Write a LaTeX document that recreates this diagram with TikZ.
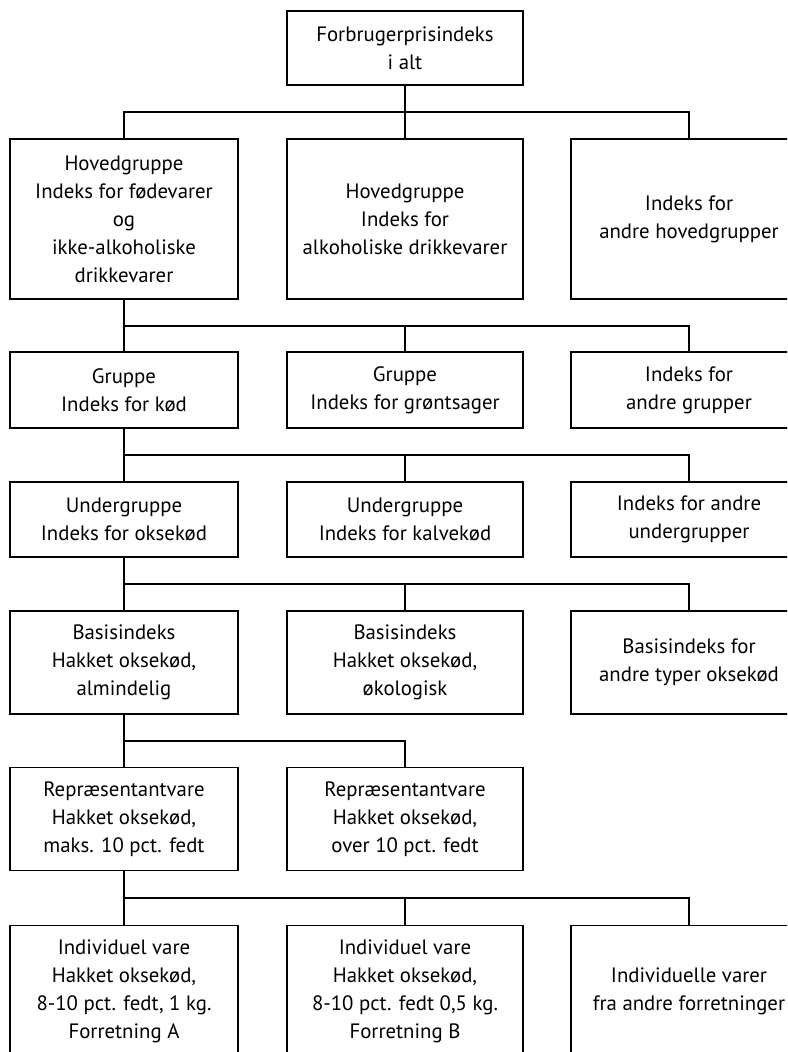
\documentclass[tikz,border=0pt]{standalone}
\usepackage{fontspec}
\setmainfont{PT Sans}
\begin{document}
\begin{tikzpicture}[x=1pt,y=-1pt,
  box/.style={draw, line width=1.9pt, align=center, inner sep=0pt,
    font=\fontsize{20.8}{28}\selectfont, minimum height=#1},
  colL/.style={minimum width=228pt},
  colM/.style={minimum width=236pt},
  colR/.style={minimum width=236pt},
  conn/.style={line width=1.9pt}]
\useasboundingbox (0,0) rectangle (787,1052);
\clip (0,0) rectangle (787,1052);
% nodes
\node[box=74, colM] (top) at (405,48) {Forbrugerprisindeks\\i alt};
\node[box=160, colL] (a1) at (124,219) {Hovedgruppe\\Indeks for fødevarer\\og\\ikke-alkoholiske\\drikkevarer};
\node[box=160, colM] (a2) at (405,219) {Hovedgruppe\\Indeks for\\alkoholiske drikkevarer};
\node[box=160, colR] (a3) at (689,219) {Indeks for\\andre hovedgrupper};
\node[box=76, colL] (b1) at (124,390) {Gruppe\\Indeks for kød};
\node[box=76, colM] (b2) at (405,390) {Gruppe\\Indeks for grøntsager};
\node[box=76, colR] (b3) at (689,390) {Indeks for\\andre grupper};
\node[box=75, colL] (c1) at (124,519.5) {Undergruppe\\Indeks for oksekød};
\node[box=75, colM] (c2) at (405,519.5) {Undergruppe\\Indeks for kalvekød};
\node[box=75, colR] (c3) at (689,519.5) {Indeks for andre\\undergrupper};
\node[box=103, colL] (d1) at (124,662.5) {Basisindeks\\Hakket oksekød,\\almindelig};
\node[box=103, colM] (d2) at (405,662.5) {Basisindeks\\Hakket oksekød,\\økologisk};
\node[box=103, colR] (d3) at (689,662.5) {Basisindeks for\\andre typer oksekød};
\node[box=103, colL] (e1) at (124,819) {Repræsentantvare\\Hakket oksekød,\\maks. 10 pct. fedt};
\node[box=103, colM] (e2) at (405,819) {Repræsentantvare\\Hakket oksekød,\\over 10 pct. fedt};
\node[box=131, colL] (f1) at (124,991) {Individuel vare\\Hakket oksekød,\\8-10 pct. fedt, 1 kg.\\Forretning A};
\node[box=131, colM] (f2) at (405,991) {Individuel vare\\Hakket oksekød,\\8-10 pct. fedt 0,5 kg.\\Forretning B};
\node[box=131, colR] (f3) at (689,991) {Individuelle varer\\fra andre forretninger};
% bar levels
\coordinate (l1) at (0,112.3);
\coordinate (l2) at (0,325.7);
\coordinate (l3) at (0,454.7);
\coordinate (l4) at (0,584);
\coordinate (l5) at (0,741);
\coordinate (l6) at (0,897.7);
% connectors
\draw[conn] (top.south) -- (top.south |- l1);
\draw[conn] (a1.north) |- (a3.north |- l1) -- (a3.north);
\draw[conn] (a2.north) -- (a2.north |- l1);
\draw[conn] (a1.south) -- (a1.south |- l2);
\draw[conn] (b1.north) |- (b3.north |- l2) -- (b3.north);
\draw[conn] (b2.north) -- (b2.north |- l2);
\draw[conn] (b1.south) -- (b1.south |- l3);
\draw[conn] (c1.north) |- (c3.north |- l3) -- (c3.north);
\draw[conn] (c2.north) -- (c2.north |- l3);
\draw[conn] (c1.south) -- (c1.south |- l4);
\draw[conn] (d1.north) |- (d3.north |- l4) -- (d3.north);
\draw[conn] (d2.north) -- (d2.north |- l4);
\draw[conn] (d1.south) -- (d1.south |- l5);
\draw[conn] (e1.north) |- (e2.north |- l5) -- (e2.north);
\draw[conn] (e1.south) -- (e1.south |- l6);
\draw[conn] (f1.north) |- (f3.north |- l6) -- (f3.north);
\draw[conn] (f2.north) -- (f2.north |- l6);
\end{tikzpicture}
\end{document}
